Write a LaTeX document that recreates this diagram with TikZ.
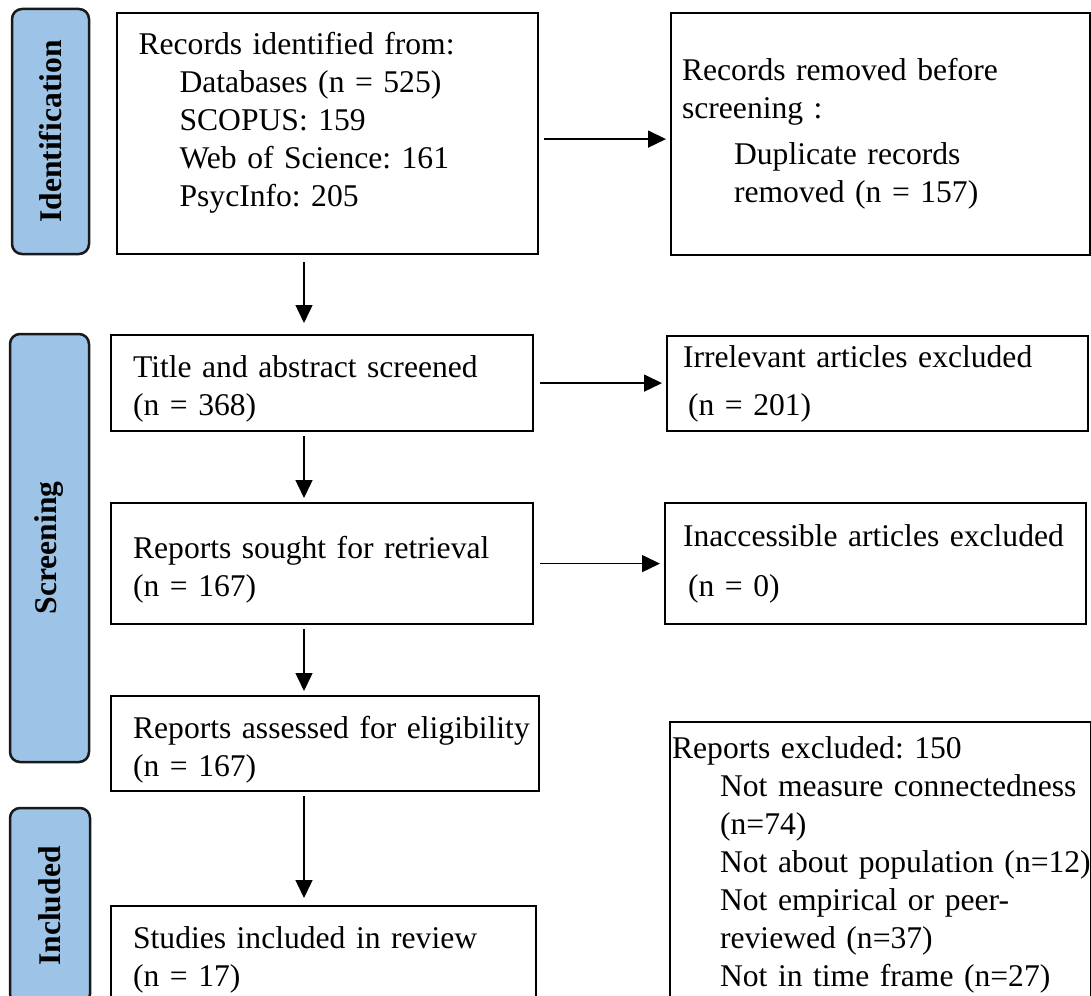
\documentclass[tikz,border=0pt]{standalone}
\usepackage{fontspec}
\setmainfont{Liberation Serif}
\usetikzlibrary{arrows.meta}

\definecolor{stageblue}{HTML}{9DC3E6}
\newcommand{\subind}[1][24pt]{\hspace*{#1}}

\tikzset{
  every node/.style={font=\fontsize{15.8}{19}\selectfont\frenchspacing},
  stage/.style={draw=black!90, line width=1.25pt, fill=stageblue, rounded corners=5pt,
    rotate=90, inner sep=0pt, font=\fontsize{15.8}{19}\selectfont\bfseries},
  box/.style={draw, line width=1.1pt, anchor=north west, inner sep=0pt, align=left},
  lpad/.style={execute at begin node={\leftskip=#1\relax}},
  flow/.style={line width=0.75pt, -{Triangle[length=9pt,width=8.5pt]},
    shorten <=2pt, shorten >=2pt}
}

\begin{document}
\begin{tikzpicture}[x=0.5pt, y=-0.5pt]
  \useasboundingbox (0,0) rectangle (1091,995);
  \clip (0,0) rectangle (1091,995);

  \node[stage, minimum width=122.5pt, minimum height=38.5pt] (ident) at (50.5,131.5) {Identification};
  \node[stage, minimum width=214pt, minimum height=39.5pt] (screen) at (49.5,548) {Screening};
  \node[stage, minimum width=98pt, minimum height=40pt] (incl) at (50,906) {Included};

  \node[box, lpad=10.75pt, text width=210.5pt, minimum height=120.5pt, text depth=90.5pt] (found) at (116,12)
    {Records identified from:\\
     \subind[20.5pt]Databases (n = 525)\\
     \subind[20.5pt]SCOPUS: 159\\
     \subind[20.5pt]Web of Science: 161\\
     \subind[20.5pt]PsycInfo: 205};
  \node[box, lpad=5.5pt, text width=209.5pt, minimum height=121pt] (dupl) at (670,12)
    {Records removed before\\
     screening :\\[4pt]
     \subind[26pt]Duplicate records\\
     \subind[26pt]removed (n = 157)};

  \node[box, lpad=11pt, text width=211pt, minimum height=48pt, text height=17pt] (titles) at (110,334)
    {Title and abstract screened\\ (n = 368)};
  \node[box, lpad=8pt, text width=210.5pt, minimum height=47.5pt] (irrel) at (666,335)
    {Irrelevant articles excluded\\[5pt] \hspace*{2.5pt}(n = 201)};

  \node[box, lpad=11pt, text width=211pt, minimum height=60.5pt, text height=17pt] (sought) at (110,502)
    {Reports sought for retrieval\\ (n = 167)};
  \node[box, lpad=9pt, text width=210.5pt, minimum height=60.5pt] (inacc) at (664,502)
    {Inaccessible articles excluded\\[6pt] \hspace*{2.5pt}(n = 0)};

  \node[box, lpad=11pt, text width=214pt, minimum height=47.5pt, text height=17pt] (assess) at (110,695)
    {Reports assessed for eligibility\\ (n = 167)};
  \node[box, lpad=1pt, text width=210.5pt, minimum height=142.5pt] (excl) at (669,721)
    {Reports excluded: 150\\
     \subind Not measure connectedness\\
     \subind (n=74)\\
     \subind\mbox{Not about population (n=12)}\\
     \subind Not empirical or peer-\\
     \subind reviewed (n=37)\\
     \subind Not in time frame (n=27)};

  \node[box, lpad=11pt, text width=212.5pt, minimum height=53.5pt] (studies) at (110,905)
    {Studies included in review\\ (n = 17)};

  \coordinate (spine) at (304,0);
  \coordinate (fx) at ([yshift=-2.75pt]found.east);

  \draw[flow, shorten <=3.5pt, shorten >=5.5pt] (found.south -| spine) -- (titles.north -| spine);
  \draw[flow] (titles.south -| spine) -- (sought.north -| spine);
  \draw[flow] (sought.south -| spine) -- (assess.north -| spine);
  \draw[flow, shorten >=3.5pt] (assess.south -| spine) -- (studies.north -| spine);

  \draw[flow, shorten <=2.5pt] (fx) -- (fx -| dupl.west);
  \draw[flow, shorten <=3pt] (titles.east) -- (titles.east -| irrel.west);
  \draw[flow, shorten <=3pt] (sought.east) -- (sought.east -| inacc.west);
\end{tikzpicture}
\end{document}
